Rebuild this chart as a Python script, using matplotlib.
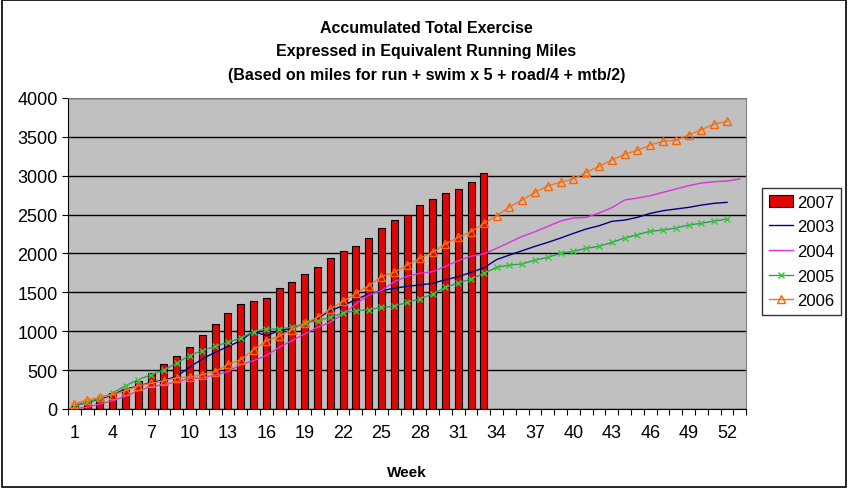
import matplotlib
matplotlib.use("Agg")
import matplotlib.pyplot as plt
from matplotlib.patches import Rectangle
import numpy as np

weeks = list(range(1, 54))
tick_labels = [str(w) for w in range(1, 54, 3)]

y2007 = [42, 90, 130, 206, 257, 360, 463, 574, 682, 797, 947, 1089, 1230, 1346, 1389,
         1423, 1552, 1629, 1732, 1822, 1938, 2028, 2092, 2195, 2324, 2427, 2499, 2619,
         2697, 2774, 2825, 2915, 3031]

y2003 = [43, 86, 129, 180, 257, 292, 343, 369, 420, 536, 643, 729, 801, 879, 999,
         943, 1007, 1037, 1102, 1166, 1264, 1329, 1406, 1479, 1522, 1552, 1578, 1595,
         1616, 1663, 1701, 1758, 1815, 1922, 1980, 2036, 2092, 2143, 2199, 2259, 2315,
         2357, 2413, 2430, 2465, 2516, 2550, 2572, 2593, 2623, 2645, 2658]

y2004 = [9, 21, 64, 107, 163, 236, 287, 313, 351, 390, 403, 437, 480, 570, 621,
         686, 793, 879, 964, 1050, 1114, 1222, 1350, 1466, 1522, 1637, 1706, 1745,
         1766, 1835, 1907, 1964, 1996, 2066, 2143, 2220, 2280, 2349, 2418, 2456, 2465,
         2520, 2589, 2688, 2713, 2743, 2786, 2829, 2872, 2906, 2923, 2932, 2958]

y2005 = [34, 86, 137, 202, 300, 377, 441, 501, 592, 686, 750, 806, 857, 913, 994,
         1029, 1029, 1050, 1102, 1136, 1179, 1234, 1264, 1277, 1307, 1320, 1372, 1415,
         1479, 1565, 1620, 1672, 1745, 1822, 1852, 1865, 1916, 1950, 2002, 2028, 2066,
         2092, 2143, 2199, 2242, 2285, 2302, 2328, 2366, 2388, 2418, 2443]

y2006 = [64, 116, 150, 180, 236, 296, 330, 364, 403, 411, 441, 480, 574, 634, 763,
         875, 935, 1020, 1102, 1179, 1286, 1385, 1488, 1586, 1701, 1758, 1852, 1938,
         2015, 2122, 2208, 2280, 2388, 2484, 2598, 2688, 2786, 2872, 2915, 2958, 3044,
         3121, 3202, 3275, 3327, 3395, 3443, 3456, 3524, 3592, 3665, 3700]

plt.rcParams['font.family'] = ['Liberation Sans', 'DejaVu Sans']

fig = plt.figure(figsize=(8.49, 4.89), dpi=100)
ax = fig.add_axes([0.080, 0.1616, 0.799, 0.636])
ax.set_facecolor('#C0C0C0')

b7 = ax.bar(weeks[:len(y2007)], y2007, width=0.55, color='#DD0806', edgecolor='black',
            linewidth=0.8, label='2007', zorder=2)
l3, = ax.plot(weeks[:len(y2003)], y2003, color='#000080', lw=1.0, label='2003', zorder=3)
l4, = ax.plot(weeks[:len(y2004)], y2004, color='#E030E0', lw=1.0, label='2004', zorder=3)
l5, = ax.plot(weeks[:len(y2005)], y2005, color='#339966', lw=1.0, marker='x', ms=5,
              mec='#33CC33', mew=1.0, label='2005', zorder=3)
l6, = ax.plot(weeks[:len(y2006)], y2006, color='#F07828', lw=1.0, marker='^', ms=6,
              mfc='none', mec='#FF6600', mew=1.0, label='2006', zorder=4)

ax.set_xlim(0.5, 53.5)
ax.set_ylim(0, 4000)
ax.set_yticks(range(0, 4001, 500))
ax.yaxis.grid(True, color='black', lw=1.0, zorder=1)
ax.set_axisbelow(True)
ax.set_xticks(np.arange(0.5, 54, 1.0))
ax.set_xticklabels([])
ax.set_xticks(range(1, 54, 3), minor=True)
ax.set_xticklabels(tick_labels, minor=True)
ax.tick_params(axis='x', which='major', length=4, direction='out', color='black')
ax.tick_params(axis='x', which='minor', length=0, pad=11, labelsize=13)
ax.tick_params(axis='y', length=4, labelsize=13)
for s in ['top', 'right']:
    ax.spines[s].set_color('#808080')
for s in ['left', 'bottom']:
    ax.spines[s].set_color('black')

ax.set_xlabel('Week', fontsize=11, fontweight='bold', labelpad=17)
fig.text(0.502, 0.894, 'Accumulated Total Exercise\nExpressed in Equivalent Running Miles\n'
         '(Based on miles for run + swim x 5 + road/4 + mtb/2)',
         ha='center', va='center', fontsize=11.5, fontweight='bold', linespacing=1.7)

leg = fig.legend([b7, l3, l4, l5, l6], ['2007', '2003', '2004', '2005', '2006'],
                 loc='upper left', bbox_to_anchor=(0.8975, 0.6135), fontsize=12,
                 frameon=True, fancybox=False, edgecolor='black', handlelength=1.45,
                 handletextpad=0.25, borderpad=0.4, labelspacing=0.58, borderaxespad=0)
leg.get_frame().set_linewidth(1.0)

fig.patches.append(Rectangle((0.002, 0.003), 0.995, 0.994, transform=fig.transFigure,
                             fill=False, edgecolor='black', lw=1.2))

fig.savefig('out.png', dpi=100)
